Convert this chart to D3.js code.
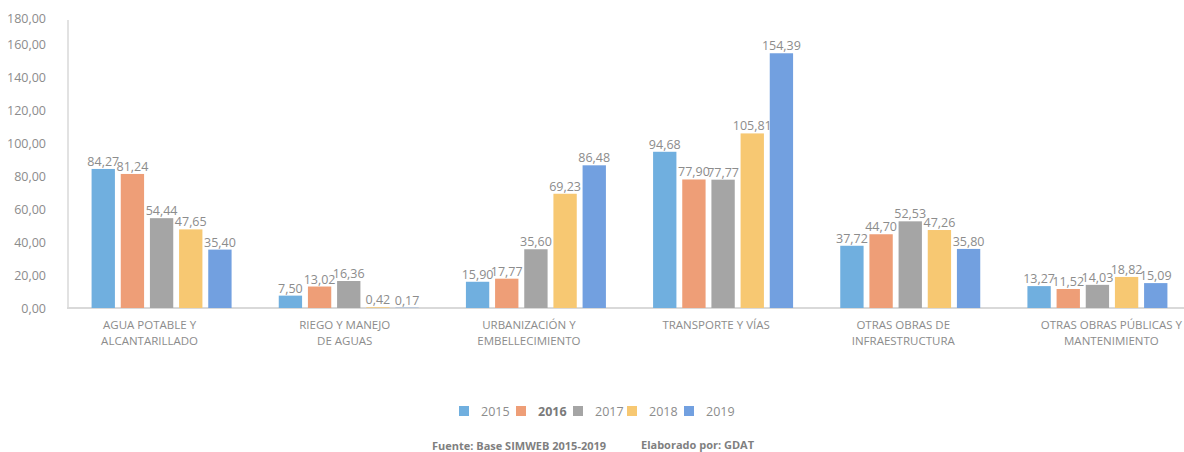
<!DOCTYPE html>
<html>
<head>
<meta charset="utf-8">
<script src="https://cdn.jsdelivr.net/npm/d3@7"></script>
<style>
  body { margin: 0; background: #fff; }
  svg text { font-family: "Open Sans", "Noto Sans", sans-serif; }
</style>
</head>
<body>
<div id="chart"></div>
<script>
// data
const categories = [
  ["AGUA POTABLE Y", "ALCANTARILLADO"],
  ["RIEGO Y MANEJO", "DE AGUAS"],
  ["URBANIZACIÓN Y", "EMBELLECIMIENTO"],
  ["TRANSPORTE Y VÍAS"],
  ["OTRAS OBRAS DE", "INFRAESTRUCTURA"],
  ["OTRAS OBRAS PÚBLICAS Y", "MANTENIMIENTO"]
];
const years = ["2015", "2016", "2017", "2018", "2019"];
const v2015 = [84.27, 7.50, 15.90, 94.68, 37.72, 13.27];
const v2016 = [81.24, 13.02, 17.77, 77.90, 44.70, 11.52];
const v2017 = [54.44, 16.36, 35.60, 77.77, 52.53, 14.03];
const v2018 = [47.65, 0.42, 69.23, 105.81, 47.26, 18.82];
const v2019 = [35.40, 0.17, 86.48, 154.39, 35.80, 15.09];
const yTicks = [0, 20, 40, 60, 80, 100, 120, 140, 160, 180];
const colors = ["#70AFDF", "#EE9E77", "#A5A5A5", "#F7C872", "#72A0E0"];

const series = [v2015, v2016, v2017, v2018, v2019];
const width = 1184, height = 452;
const fmt = v => v.toFixed(2).replace(".", ",");

const svg = d3.select("#chart").append("svg")
    .attr("width", width)
    .attr("height", height);

const x0 = d3.scaleBand()
    .domain(d3.range(categories.length))
    .range([68, 1191]);

const x1 = d3.scaleBand()
    .domain(years)
    .range([0, 140])
    .paddingInner(0.2);

const y = d3.scaleLinear()
    .domain([0, 160])
    .range([308, 44]);

// y axis
const yAxis = d3.axisLeft(y)
    .tickValues(yTicks)
    .tickSize(0)
    .tickPadding(22)
    .tickFormat(fmt);

const gy = svg.append("g")
    .attr("transform", "translate(68,0)")
    .call(yAxis);
gy.select(".domain").remove();
gy.selectAll(".tick text")
    .attr("fill", "#8c8c8c")
    .style("font-size", "12.5px");
// top label sits lower than its scale position
gy.selectAll(".tick").filter(d => d === 180)
    .attr("transform", "translate(0,19)");

svg.append("line")
    .attr("x1", 68).attr("x2", 68)
    .attr("y1", 20).attr("y2", 308)
    .attr("stroke", "#d9d9d9")
    .attr("stroke-width", 1.5);

svg.append("line")
    .attr("x1", 67).attr("x2", 1184)
    .attr("y1", 308).attr("y2", 308)
    .attr("stroke", "#d9d9d9")
    .attr("stroke-width", 2);

// bars
const groups = svg.selectAll("g.cat")
    .data(categories)
    .enter()
    .append("g")
    .attr("class", "cat")
    .attr("transform", (d, i) => `translate(${x0(i) + (x0.bandwidth() - 140) / 2},0)`);

groups.selectAll("rect")
    .data((d, i) => years.map((yr, j) => ({ yr, j, v: series[j][i] })))
    .enter()
    .append("rect")
    .attr("x", d => x1(d.yr))
    .attr("y", d => y(d.v))
    .attr("width", x1.bandwidth())
    .attr("height", d => y(0) - y(d.v))
    .attr("fill", d => colors[d.j]);

groups.selectAll("text.val")
    .data((d, i) => years.map((yr, j) => ({ yr, j, v: series[j][i] })))
    .enter()
    .append("text")
    .attr("class", "val")
    .attr("x", d => x1(d.yr) + x1.bandwidth() / 2)
    .attr("y", d => y(d.v) - 3)
    .attr("text-anchor", "middle")
    .attr("fill", "#8c8c8c")
    .style("font-size", "12.5px")
    .text(d => fmt(d.v));

// category labels (Excel centres them a little left of the group)
const labelShift = [-12, -4, -7, -7, -7, 14];
groups.append("text")
    .attr("y", 329)
    .attr("text-anchor", "middle")
    .attr("fill", "#8c8c8c")
    .style("font-size", "11.5px")
    .each(function(d, i) {
      d3.select(this).selectAll("tspan")
          .data(d)
          .enter()
          .append("tspan")
          .attr("x", 70 + labelShift[i])
          .attr("dy", (t, k) => k === 0 ? 0 : 16)
          .text(t => t);
    });

// legend
const legendX = [459, 516, 573, 627, 684];
const legend = svg.append("g");
years.forEach((yr, j) => {
  legend.append("rect")
      .attr("x", legendX[j]).attr("y", 406)
      .attr("width", 10).attr("height", 10)
      .attr("fill", colors[j]);
  legend.append("text")
      .attr("x", legendX[j] + 22).attr("y", 416)
      .attr("fill", j === 1 ? "#7a7a7a" : "#8c8c8c")
      .style("font-size", "12.5px")
      .style("font-weight", j === 1 ? "bold" : "normal")
      .text(yr);
});

// footer
svg.append("text")
    .attr("x", 432).attr("y", 450)
    .attr("fill", "#7f7f7f")
    .style("font-size", "11px")
    .style("font-weight", "bold")
    .text("Fuente: Base SIMWEB 2015-2019");
svg.append("text")
    .attr("x", 641).attr("y", 449)
    .attr("fill", "#7f7f7f")
    .style("font-size", "11px")
    .style("font-weight", "bold")
    .text("Elaborado por: GDAT");
</script>
</body>
</html>
